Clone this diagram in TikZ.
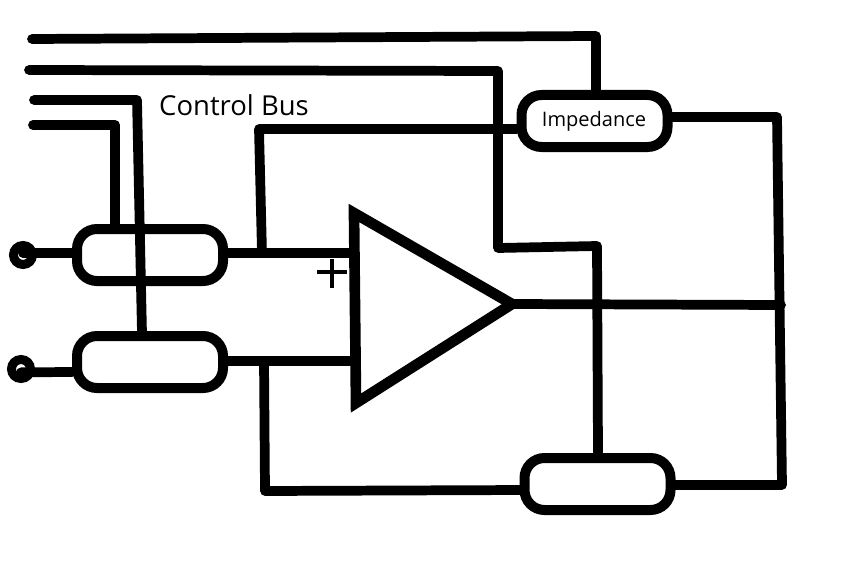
\documentclass[tikz,border=0pt]{standalone}
\usepackage{fontspec}
\setmainfont{Open Sans}
\tikzset{
        wire/.style={line width=7.3pt, line join=round, line cap=round},
        switchbox/.style={draw=black, line width=7.5pt, rounded corners=15pt, minimum width=109.5pt, minimum height=39pt, inner sep=0pt, fill=white},
        terminal/.style={circle, draw=black, line width=6.75pt, inner sep=0pt, minimum size=14.25pt},
        opamp/.style={draw=black, line width=8pt, line join=miter, fill=white},
        busname/.style={font=\fontsize{20.6}{24}\selectfont, inner sep=0pt},
        boxname/.style={font=\fontsize{15}{18}\selectfont, inner sep=0pt}
          }

\begin{document}
\begin{tikzpicture}[x=0.75pt, y=-0.75pt]
            \useasboundingbox (0,0) rectangle (862,574);
            \fill[white] (0,0) rectangle (862,574);
            % bus corners
            \coordinate (busa) at (32,39);
            \coordinate (busat) at (596,36);
            \coordinate (busb) at (29,70);
            \coordinate (busbt) at (498,71);
            \coordinate (busbm) at (498,248);
            \coordinate (busbr) at (597,246);
            \coordinate (busc) at (34,100);
            \coordinate (busct) at (137,100);
            \coordinate (busd) at (33,125);
            \coordinate (busdt) at (115,125);
            % loops
            \coordinate (fba) at (259,129);
            \coordinate (fbb) at (262,253);
            \coordinate (fbc) at (264,361);
            \coordinate (fbd) at (265,491);
            \coordinate (fbe) at (524,490);
            \coordinate (outa) at (512,304);
            \coordinate (outb) at (781,305);
            \coordinate (rta) at (777,117);
            \coordinate (rtb) at (782,485);
            \coordinate (posa) at (352,253);
            \coordinate (posb) at (354,361);
            % boxes
            \node[switchbox] (swa) at (150,255) {};
            \node[switchbox] (swb) at (150,362) {};
            \node[switchbox] (imp) at (594.5,121) {};
            \node[switchbox] (swc) at (597.5,484) {};
            \node[terminal] (ina) at (23,255) {};
            \node[terminal] (inb) at (21,369) {};
            % wires
            \draw[wire] (busa) -- (busat) -- (imp.north -| busat);
            \draw[wire] (busb) -- (busbt) -- (busbm) -- (busbr) -- (swc.north -| 598,0);
            \draw[wire] (busc) -- (busct) -- (142,333);
            \draw[wire] (busd) -- (busdt) -- (115,227);
            \draw[wire] (imp.west |- fba) -- (fba) -- (fbb);
            \draw[wire] (swa.east |- fbb) -- (fbb) -- (posa);
            \draw[wire] (swb.east |- fbc) -- (fbc) -- (posb);
            \draw[wire] (fbc) -- (fbd) -- (fbe);
            \draw[wire] (swc.east |- rtb) -- (rtb) -- (rta) -- (imp.east |- rta);
            \draw[wire] (outa) -- (outb);
            \draw[wire] ([yshift=1.5pt]ina.center) -- (swa.west |- fbb);
            \draw[wire] ([yshift=-2.5pt]inb.center) -- ([yshift=-7.5pt]swb.west);
            % amplifier
            \draw[opamp] (354,213) -- (512,304) -- (356,403) -- cycle;
            \draw[line width=3.2pt] (332,259) -- (332,288) (317,272) -- (347,272);
            % text
            \node[boxname] (impname) at (594,121) {Impedance};
            \node[busname] (busname) at (234,105) {Control Bus};
          \end{tikzpicture}
\end{document}
